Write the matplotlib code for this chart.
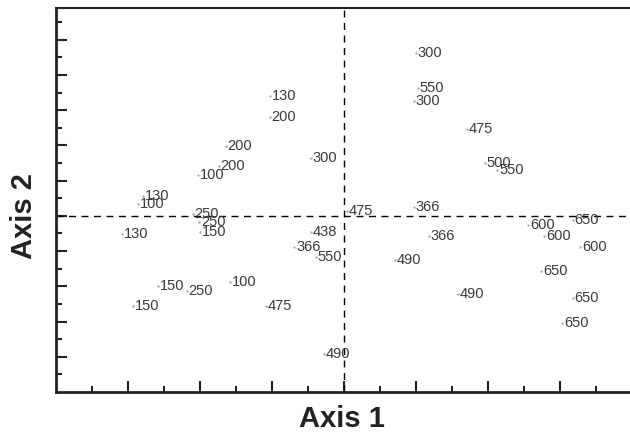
import matplotlib.pyplot as plt

# point labels and coordinates (axis 1, axis 2)
labels = ['130', '200', '200', '200', '100', '130', '100', '300', '250', '250',
          '150', '130', '150', '250', '100', '150', '475', '438', '366', '550',
          '490', '475', '300', '550', '300', '475', '500', '550', '366', '366',
          '490', '490', '600', '650', '600', '600', '650', '650', '650']
axis1 = [-1.03, -1.03, -1.64, -1.74, -2.03, -2.79, -2.86, -0.46, -2.10, -2.01,
         -2.00, -3.08, -2.58, -2.18, -1.58, -2.93, -1.08, -0.46, -0.69, -0.39,
         -0.28, 0.04, 1.00, 1.03, 0.97, 1.71, 1.96, 2.13, 0.97, 1.18,
         0.71, 1.58, 2.56, 3.18, 2.78, 3.28, 2.74, 3.18, 3.03]
axis2 = [3.41, 2.81, 1.99, 1.42, 1.16, 0.57, 0.34, 1.65, 0.06, -0.17,
         -0.45, -0.51, -1.99, -2.13, -1.88, -2.56, -2.56, -0.45, -0.88, -1.16,
         -3.92, 0.14, 4.63, 3.64, 3.27, 2.47, 1.51, 1.31, 0.26, -0.57,
         -1.25, -2.22, -0.26, -0.11, -0.57, -0.88, -1.56, -2.33, -3.04]

fig = plt.figure(figsize=(6.3, 4.37), dpi=100)
ax = fig.add_axes([56 / 630, 45 / 437, 576 / 630, 384 / 437])

# dashed reference lines through the origin
ax.axvline(0, color='black', linestyle=(0, (5, 4)), linewidth=1)
ax.axhline(0, color='black', linestyle=(0, (5, 4)), linewidth=1)

# tiny point markers with their labels
ax.plot(axis1, axis2, linestyle='none', marker='.', markersize=1.5, color='#aaaaaa')
for lab, x, y in zip(labels, axis1, axis2):
    ax.annotate(lab, (x, y), xytext=(1.2, 0), textcoords='offset points',
                ha='left', va='center', fontsize=10.5, color='#3a3a3a',
                family='Liberation Sans')

ax.set_xlim(-4, 4)
ax.set_ylim(-5, 5.9)
ax.set_xticks(range(-3, 4))
ax.set_xticks([i * 0.5 for i in range(-7, 8)], minor=True)
ax.set_yticks(range(-4, 6))
ax.set_yticks([i * 0.5 for i in range(-9, 12)], minor=True)
ax.tick_params(which='both', direction='in', labelbottom=False, labelleft=False,
               width=1.5, color='#222222')
ax.tick_params(which='major', length=8)
ax.tick_params(which='minor', length=4)

ax.spines['right'].set_visible(False)
ax.spines['left'].set_linewidth(2)
ax.spines['bottom'].set_linewidth(2)
ax.spines['top'].set_linewidth(1.5)
for s in ax.spines.values():
    s.set_color('#222222')

# axis titles
fig.text(342 / 630, 1 - 419 / 437, 'Axis 1', ha='center', va='center',
         fontsize=21, fontweight='bold', color='#222222', family='Liberation Sans')
fig.text(24 / 630, 1 - 216 / 437, 'Axis 2', ha='center', va='center', rotation=90,
         fontsize=21, fontweight='bold', color='#222222', family='Liberation Sans')

fig.savefig('out.png', dpi=100)
